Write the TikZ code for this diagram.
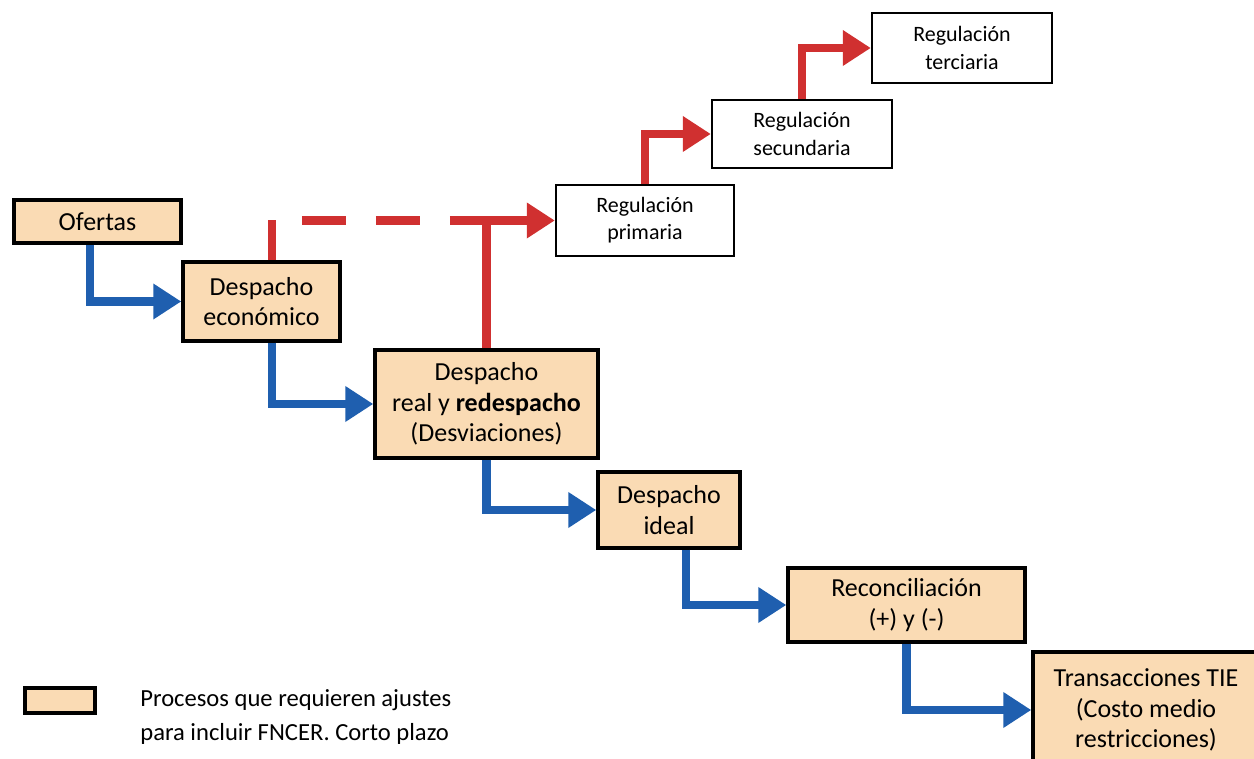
\documentclass[tikz,border=0pt]{standalone}
\usepackage{fontspec}
\setmainfont{Carlito}
\usetikzlibrary{arrows.meta}

\definecolor{peach}{RGB}{250,219,180}
\definecolor{flowblue}{RGB}{31,95,175}
\definecolor{flowred}{RGB}{208,48,48}

\begin{document}
\begin{tikzpicture}[x=0.02cm, y=-0.02cm,
  proc/.style={draw=black, line width=2pt, fill=peach, align=center, inner sep=0pt,
    font=\fontsize{14.8}{17.5}\selectfont},
  reg/.style={draw=black, line width=1.4pt, fill=white, align=center, inner sep=0pt,
    font=\fontsize{12.5}{15.5}\selectfont},
  bluearrow/.style={draw=flowblue, line width=0.17cm, -{Triangle[length=0.56cm, width=0.68cm]}},
  redarrow/.style={draw=flowred, line width=0.17cm, -{Triangle[length=0.56cm, width=0.68cm]}},
  redline/.style={draw=flowred, line width=0.17cm}]
\useasboundingbox (0,0) rectangle (1254,759);

\node[proc, minimum width=3.34cm, minimum height=0.86cm] (ofertas) at (97.5,221.5) {Ofertas};
\node[proc, minimum width=3.14cm, minimum height=1.58cm] (deco) at (261.5,301.5) {Despacho\\econ\'omico};
\node[proc, minimum width=4.46cm, minimum height=2.16cm] (dreal) at (486.5,404) {Despacho\\real y \textbf{redespacho}\\(Desviaciones)};
\node[proc, minimum width=2.84cm, minimum height=1.52cm] (dideal) at (669,510) {Despacho\\ideal};
\node[proc, minimum width=4.74cm, minimum height=1.48cm] (recon) at (906.5,605) {Reconciliaci\'on\\(+) y (-)};
\node[proc, minimum width=4.52cm, minimum height=2.32cm] (tie) at (1146,710) {Transacciones TIE\\(Costo medio\\restricciones)};

\node[reg, minimum width=3.56cm, minimum height=1.42cm] (rprim) at (645,220.5) {Regulaci\'on\\primaria};
\node[reg, minimum width=3.6cm, minimum height=1.36cm] (rsec) at (802,134) {Regulaci\'on\\secundaria};
\node[reg, minimum width=3.6cm, minimum height=1.4cm] (rter) at (962,48) {Regulaci\'on\\terciaria};

\node[proc, minimum width=1.4cm, minimum height=0.5cm] (legbox) at (60,700.5) {};
\node[anchor=west, align=left, inner sep=0pt, font=\fontsize{14}{19.5}\selectfont] (legtext) at (140,717)
  {Procesos que requieren ajustes\\para incluir FNCER. Corto plazo};

\draw[bluearrow] ([xshift=-0.15cm]ofertas.south) |- (deco.west);
\draw[bluearrow] ([xshift=0.21cm]deco.south) |- (dreal.west);
\draw[bluearrow] (dreal.south) |- (dideal.west);
\draw[bluearrow] ([xshift=0.34cm]dideal.south) |- (recon.west);
\draw[bluearrow] (recon.south) |- (tie.west);

\coordinate (dashstart) at ([xshift=0.21cm]deco.north |- rprim.west);
\coordinate (dashend) at (dreal.north |- rprim.west);
\draw[redline] ([xshift=0.21cm]deco.north) -- (dashstart);
\draw[redline, dash pattern=on 0.88cm off 0.6cm, dash phase=0.88cm] (dashstart) -- (dashend);
\draw[redarrow] (dreal.north) |- (rprim.west);
\draw[redarrow] (rprim.north) |- (rsec.west);
\draw[redarrow] (rsec.north) |- (rter.west);
\end{tikzpicture}
\end{document}
